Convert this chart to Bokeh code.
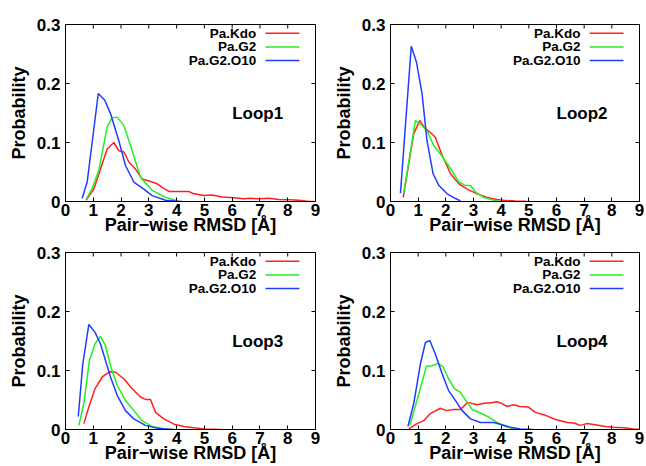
import math
from bokeh.plotting import figure
from bokeh.layouts import column, row
from bokeh.models import FixedTicker, Range1d, ColumnDataSource
from bokeh.embed import file_html
from bokeh.resources import INLINE
from bokeh.core.properties import value

# ---------------- data ----------------
series_names = ["Pa.Kdo", "Pa.G2", "Pa.G2.O10"]
series_colors = ["#ff2020", "#22ee22", "#1f3dff"]
panel_titles = ["Loop1", "Loop2", "Loop3", "Loop4"]
x_ticks = [0, 1, 2, 3, 4, 5, 6, 7, 8, 9]
y_ticks = [0, 0.1, 0.2, 0.3]
y_tick_labels = ["0", "0.1", "0.2", "0.3"]
x_min, x_max = 0, 9
y_min, y_max = 0, 0.3
x_label = "Pair\u2212wise RMSD [\u00c5]"
y_label = "Probability"

# Loop1
loop1_kdo_x = [0.74, 1.02, 1.26, 1.5, 1.74, 1.92, 2.1, 2.28, 2.52, 2.76, 3.06, 3.3, 3.48, 3.72, 4.2, 4.44, 4.62, 4.98, 5.28, 5.64, 6.06, 6.42, 6.66, 6.96, 7.32, 7.68, 8.1, 8.4, 8.7, 8.94]
loop1_kdo_y = [0.002, 0.021, 0.055, 0.089, 0.100, 0.086, 0.084, 0.067, 0.055, 0.038, 0.034, 0.030, 0.024, 0.017, 0.017, 0.017, 0.013, 0.010, 0.011, 0.0075, 0.0065, 0.0045, 0.0055, 0.0045, 0.0055, 0.0035, 0.003, 0.002, 0.0005, 0.0]
loop1_g2_x = [0.74, 0.96, 1.2, 1.5, 1.68, 1.86, 2.1, 2.4, 2.7, 3.12, 3.6, 3.96]
loop1_g2_y = [0.003, 0.022, 0.053, 0.126, 0.142, 0.143, 0.129, 0.086, 0.041, 0.019, 0.007, 0.002]
loop1_o10_x = [0.6, 0.78, 1.18, 1.41, 1.62, 1.92, 2.16, 2.46, 2.82, 3.12, 3.6, 4.2]
loop1_o10_y = [0.005, 0.033, 0.183, 0.172, 0.149, 0.103, 0.061, 0.033, 0.021, 0.010, 0.002, 0.0]

# Loop2
loop2_kdo_x = [0.46, 0.84, 1.06, 1.26, 1.44, 1.62, 1.87, 2.17, 2.47, 2.77, 3.13, 3.49, 3.85, 4.09, 4.5, 4.9]
loop2_kdo_y = [0.007, 0.115, 0.137, 0.123, 0.117, 0.109, 0.078, 0.047, 0.030, 0.021, 0.013, 0.007, 0.0035, 0.002, 0.001, 0.0005]
loop2_g2_x = [0.48, 0.9, 1.14, 1.32, 1.56, 1.8, 2.05, 2.29, 2.47, 2.71, 2.89, 3.07, 3.37, 3.73, 3.97]
loop2_g2_y = [0.014, 0.137, 0.129, 0.12, 0.095, 0.081, 0.064, 0.047, 0.033, 0.027, 0.027, 0.016, 0.007, 0.002, 0.0]
loop2_o10_x = [0.36, 0.75, 0.94, 1.14, 1.32, 1.54, 1.75, 2.05, 2.35, 2.53]
loop2_o10_y = [0.014, 0.263, 0.236, 0.183, 0.103, 0.047, 0.027, 0.013, 0.005, 0.001]

# Loop3
loop3_kdo_x = [0.66, 0.84, 1.06, 1.32, 1.6, 1.8, 2.1, 2.4, 2.7, 2.88, 3.06, 3.24, 3.54, 3.9, 4.26, 4.62, 5.0, 5.6]
loop3_kdo_y = [0.010, 0.038, 0.069, 0.089, 0.098, 0.097, 0.086, 0.069, 0.055, 0.051, 0.051, 0.029, 0.018, 0.009, 0.005, 0.003, 0.001, 0.0]
loop3_g2_x = [0.48, 0.66, 0.86, 1.06, 1.26, 1.44, 1.62, 1.86, 2.16, 2.46, 2.76, 3.12, 3.6, 3.96]
loop3_g2_y = [0.007, 0.044, 0.117, 0.145, 0.158, 0.142, 0.108, 0.075, 0.049, 0.032, 0.015, 0.005, 0.001, 0.0]
loop3_o10_x = [0.46, 0.62, 0.84, 1.06, 1.26, 1.44, 1.62, 1.86, 2.16, 2.46, 2.88, 3.36, 3.84]
loop3_o10_y = [0.022, 0.11, 0.178, 0.165, 0.145, 0.117, 0.089, 0.058, 0.032, 0.018, 0.007, 0.0015, 0.0]

# Loop4
loop4_kdo_x = [0.66, 0.96, 1.2, 1.44, 1.8, 2.02, 2.29, 2.53, 2.79, 3.13, 3.43, 3.61, 3.83, 4.03, 4.21, 4.45, 4.67, 4.99, 5.23, 5.6, 5.96, 6.39, 6.63, 6.86, 7.1, 7.4, 7.76, 8.06, 8.42, 8.78, 9.0]
loop4_kdo_y = [0.001, 0.010, 0.015, 0.027, 0.036, 0.032, 0.034, 0.034, 0.046, 0.042, 0.045, 0.045, 0.047, 0.044, 0.039, 0.042, 0.039, 0.038, 0.029, 0.024, 0.017, 0.012, 0.011, 0.007, 0.010, 0.008, 0.005, 0.004, 0.003, 0.001, 0.0]
loop4_g2_x = [0.7, 1.02, 1.3, 1.5, 1.72, 1.9, 2.1, 2.32, 2.53, 2.77, 2.95, 3.25, 3.55, 3.85, 4.15, 4.51, 4.7]
loop4_g2_y = [0.007, 0.06, 0.107, 0.108, 0.112, 0.106, 0.086, 0.069, 0.063, 0.046, 0.034, 0.028, 0.021, 0.012, 0.005, 0.001, 0.0]
loop4_o10_x = [0.63, 0.84, 1.08, 1.26, 1.42, 1.62, 1.87, 2.1, 2.35, 2.59, 2.89, 3.25, 3.73, 4.03, 4.33, 4.69, 5.15]
loop4_o10_y = [0.005, 0.044, 0.111, 0.147, 0.151, 0.128, 0.094, 0.066, 0.049, 0.032, 0.018, 0.012, 0.012, 0.008, 0.004, 0.001, 0.0]

panels = [
    [(loop1_kdo_x, loop1_kdo_y), (loop1_g2_x, loop1_g2_y), (loop1_o10_x, loop1_o10_y)],
    [(loop2_kdo_x, loop2_kdo_y), (loop2_g2_x, loop2_g2_y), (loop2_o10_x, loop2_o10_y)],
    [(loop3_kdo_x, loop3_kdo_y), (loop3_g2_x, loop3_g2_y), (loop3_o10_x, loop3_o10_y)],
    [(loop4_kdo_x, loop4_kdo_y), (loop4_g2_x, loop4_g2_y), (loop4_o10_x, loop4_o10_y)],
]

FONT = "Liberation Sans"
legend_y = [0.285, 0.262, 0.239]


def make_panel(idx, width, height, bl, br, bt, bb):
    p = figure(width=width, height=height, output_backend="svg", toolbar_location=None,
               x_range=Range1d(x_min, x_max), y_range=Range1d(y_min, y_max),
               min_border_left=bl, min_border_right=br, min_border_top=bt, min_border_bottom=bb)
    p.xgrid.visible = False
    p.ygrid.visible = False
    p.outline_line_color = "black"
    p.outline_line_width = 1
    p.background_fill_color = "white"
    p.border_fill_color = "white"

    for (xs, ys), col in zip(panels[idx], series_colors):
        p.line(xs, ys, line_color=col, line_width=1.5)

    for ax, ticks in ((p.xaxis[0], x_ticks), (p.yaxis[0], y_ticks)):
        ax.ticker = FixedTicker(ticks=ticks)
        ax.axis_line_color = "black"
        ax.major_tick_line_color = "black"
        ax.major_tick_in = 4
        ax.major_tick_out = 0
        ax.minor_tick_line_color = None
        ax.major_label_text_font = FONT
        ax.major_label_text_font_style = "bold"
        ax.major_label_text_font_size = "17px"
        ax.major_label_text_color = "black"
        ax.axis_label_text_font = FONT
        ax.axis_label_text_font_style = "bold"
        ax.axis_label_text_font_size = "18px"
        ax.axis_label_text_color = "black"
    p.yaxis[0].major_label_overrides = {t: l for t, l in zip(y_ticks, y_tick_labels)}
    p.xaxis[0].axis_label = x_label
    p.yaxis[0].axis_label = y_label
    p.xaxis[0].major_label_standoff = 2
    p.xaxis[0].axis_label_standoff = -4
    p.yaxis[0].major_label_standoff = 5
    p.yaxis[0].axis_label_standoff = 5

    # mirror ticks on the right and top edges (inward)
    p.ray(x=[x_max] * len(y_ticks), y=y_ticks, length=4, length_units="screen",
          angle=math.pi, line_color="black", line_width=1)
    p.ray(x=x_ticks, y=[y_max] * len(x_ticks), length=4, length_units="screen",
          angle=-math.pi / 2, line_color="black", line_width=1)

    # legend (label left, sample line right)
    src = ColumnDataSource(dict(name=series_names, y=legend_y, color=series_colors,
                                tx=[6.87] * 3, x0=[7.2] * 3, x1=[8.42] * 3))
    p.text(x="tx", y="y", text="name", source=src, text_align="right", text_baseline="middle",
           text_font=value(FONT), text_font_style="bold", text_font_size="13.5px", text_color="black")
    p.segment(x0="x0", y0="y", x1="x1", y1="y", source=src, line_color="color", line_width=1.5)

    p.text(x=[6.0], y=[0.15], text=[panel_titles[idx]], text_align="left", text_baseline="middle",
           text_font=value(FONT), text_font_style="bold", text_font_size="17px", text_color="black")
    return p


f1 = make_panel(0, 323, 238, 65, 8, 24, 37)
f2 = make_panel(1, 323, 238, 67, 7, 24, 37)
f3 = make_panel(2, 323, 228, 65, 8, 14, 37)
f4 = make_panel(3, 323, 228, 67, 7, 14, 37)

layout = column(row(f1, f2), row(f3, f4))
open("out.html", "w").write(file_html(layout, INLINE))
